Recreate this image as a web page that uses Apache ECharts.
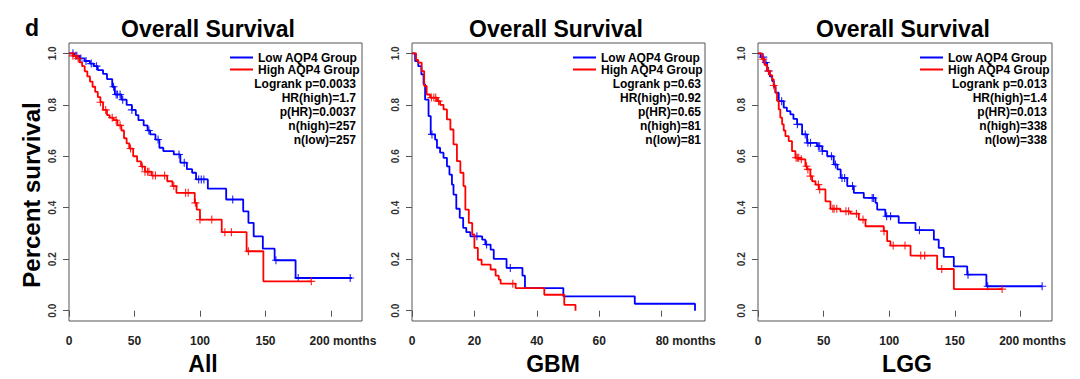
<!DOCTYPE html>
<html><head><meta charset="utf-8">
<script src="https://cdn.jsdelivr.net/npm/echarts@6/dist/echarts.min.js"></script>
<style>html,body{margin:0;padding:0;background:#fff}#c{width:1080px;height:379px}</style>
</head><body><div id="c"></div>
<script>
// ---------- data ----------
const panelLabels = ['All', 'GBM', 'LGG'];
const seriesNames = ['Low AQP4 Group', 'High AQP4 Group'];
const yTicks = [0, 0.2, 0.4, 0.6, 0.8, 1.0];
const xTicksAll = [0, 50, 100, 150, 200];
const xTicksGBM = [0, 20, 40, 60, 80];
const xTicksLGG = [0, 50, 100, 150, 200];
const statsAll = ['Logrank p=0.0033', 'HR(high)=1.7', 'p(HR)=0.0037', 'n(high)=257', 'n(low)=257'];
const statsGBM = ['Logrank p=0.63', 'HR(high)=0.92', 'p(HR)=0.65', 'n(high)=81', 'n(low)=81'];
const statsLGG = ['Logrank p=0.013', 'HR(high)=1.4', 'p(HR)=0.013', 'n(high)=338', 'n(low)=338'];

// Kaplan-Meier steps (months, survival)
const allLowT = [0,4,8,12,16,19,22,26,29,33,35,40,44,48,51,53,57,60,62,66,69,72,80,85,90,94,97,106,120,133,137,141,148,157,173,216];
const allLowS = [1,0.99,0.98,0.97,0.96,0.95,0.935,0.92,0.9,0.87,0.84,0.82,0.8,0.78,0.76,0.74,0.72,0.7,0.685,0.665,0.633,0.62,0.607,0.575,0.55,0.536,0.51,0.474,0.432,0.386,0.341,0.289,0.241,0.196,0.127,0.127];
const allHighT = [0,3,6,8,10,12,14,16,18,20,22,24,26,29,31,34,37,40,42,44,46,49,52,55,58,63,75,79,82,96,97.5,100,116.6,135.6,148.4,185];
const allHighS = [1,0.99,0.98,0.965,0.95,0.93,0.91,0.89,0.87,0.85,0.83,0.81,0.78,0.76,0.75,0.74,0.72,0.70,0.67,0.65,0.63,0.60,0.58,0.56,0.54,0.525,0.503,0.484,0.458,0.419,0.393,0.354,0.305,0.231,0.114,0.114];
const gbmLowT = [0,1,2,3,3.7,4.2,5.3,6,7.4,8,9,10.1,11.2,12,12.8,13.3,14.2,15.3,16.4,17.4,18.7,22.5,23.5,25.2,26.2,30.3,35.4,36.2,48.5,71.4,90.7];
const gbmLowS = [1,0.97,0.95,0.918,0.88,0.82,0.756,0.685,0.665,0.633,0.614,0.594,0.561,0.529,0.49,0.451,0.396,0.361,0.322,0.305,0.289,0.276,0.257,0.237,0.201,0.166,0.136,0.088,0.056,0.027,0];
const gbmHighT = [0,1.3,2,3.1,3.9,4.7,5.8,8,9,10.1,11.2,12.3,13.3,14.4,15.5,16.5,17.1,18.2,19.3,20,21.1,22.3,25.2,26.8,27.8,28.4,33.2,42.4,48.8,52.4];
const gbmHighS = [1,0.974,0.964,0.931,0.873,0.84,0.828,0.814,0.8,0.782,0.743,0.704,0.646,0.581,0.536,0.484,0.393,0.341,0.296,0.244,0.198,0.179,0.16,0.136,0.121,0.105,0.088,0.062,0.023,0];
const lggLowT = [0,2,4.3,7,9,10.8,12,13.3,15.8,19.6,22,24.7,27,29.8,33.6,37.4,45,49,52.7,57.7,60.5,63,68,73,80.6,89.5,90.8,97,107.2,120,134,137.7,141.5,149.2,159.4,174,216.5];
const lggLowS = [1,0.985,0.964,0.931,0.91,0.892,0.87,0.847,0.814,0.789,0.775,0.763,0.745,0.724,0.685,0.652,0.639,0.62,0.6,0.568,0.549,0.516,0.484,0.458,0.438,0.419,0.393,0.367,0.341,0.313,0.276,0.244,0.209,0.172,0.14,0.095,0.095];
const lggHighT = [0,3.1,5,7,9,10.8,12,13.3,14.5,15.8,17,18.4,19.6,20.9,23.4,25.9,28.5,32.3,36.1,37.4,39.9,41.2,43.8,46.3,51.4,55.2,62.8,70.4,76.8,81.9,95.8,98.4,100.9,116.2,136.5,149.2,186];
const lggHighS = [1,0.977,0.955,0.931,0.915,0.899,0.875,0.847,0.815,0.782,0.75,0.724,0.70,0.678,0.659,0.62,0.594,0.588,0.561,0.549,0.523,0.503,0.49,0.471,0.425,0.396,0.386,0.377,0.354,0.328,0.309,0.27,0.253,0.214,0.162,0.084,0.084];

// censoring times (months)
const allLowCens = [3,6,9,13,17,21,34,36,37,39,41,48,61,68,84,88,99,101,103,125,158,175,214.7];
const allHighCens = [3,5,7,24,28,33,36,39,47,56,58,60,61,64,66,73,80,89,91,96.5,100,109,119,124,137,185];
const gbmLowCens = [6.4,20.8,23.9,31.5];
const gbmHighCens = [6.2,7,7.6,8.5,32.3];
const lggLowCens = [4,6,8,18,30,36,38,40,46,47,49,56,59,64,66,72,87,88,98,101,123,160,175,216.5];
const lggHighCens = [4,8,12,29,30,31,33,37,38,40,46,47,57,58,60,67,69,75,80,96,103,112,124,127,140,186];

// ---------- layout / style ----------
const FAM = 'Liberation Sans, Arial, Helvetica, sans-serif';
const BLUE = '#0000ff', RED = '#ff0000', AXC = '#555';
const panels = [
  {grid:{left:69, right:718}, xMax:223.7, xTicks:xTicksAll, pad:24, lowT:allLowT, lowS:allLowS, highT:allHighT, highS:allHighS, lowC:allLowCens, highC:allHighCens, stats:statsAll, legendLeft:230, statsRight:356, titleX:208, labelX:203},
  {grid:{left:412, right:375}, xMax:93.9, xTicks:xTicksGBM, pad:48, lowT:gbmLowT, lowS:gbmLowS, highT:gbmHighT, highS:gbmHighS, lowC:gbmLowCens, highC:gbmHighCens, stats:statsGBM, legendLeft:573, statsRight:701, titleX:556, labelX:553},
  {grid:{left:758, right:28}, xMax:224, xTicks:xTicksLGG, pad:24, lowT:lggLowT, lowS:lggLowS, highT:lggHighT, highS:lggHighS, lowC:lggLowCens, highC:lggHighCens, stats:statsLGG, legendLeft:920, statsRight:1047, titleX:903, labelX:907}
];
const PLUS = 'path://M-0.14,-1L0.14,-1L0.14,-0.14L1,-0.14L1,0.14L0.14,0.14L0.14,1L-0.14,1L-0.14,0.14L-1,0.14L-1,-0.14L-0.14,-0.14Z';

function survAt(T, S, t) {
  let v = S[0];
  for (let i = 0; i < T.length; i++) { if (T[i] <= t) v = S[i]; else break; }
  return v;
}
const pairs = (T, S) => T.map((t, i) => [t, S[i]]);
const txt = (x, y, text, size, align, extra) => Object.assign({type:'text', x, y, silent:true,
  style:{text, align, verticalAlign:'middle', font:'bold ' + size + 'px ' + FAM, fill:'#000'}}, extra || {});

const grid = [], xAxis = [], yAxis = [], series = [], legend = [], graphic = [];
panels.forEach((p, i) => {
  grid.push({left:p.grid.left, right:p.grid.right, top:43, bottom:58, show:true, borderColor:AXC, borderWidth:1, backgroundColor:'transparent'});
  const last = p.xTicks[p.xTicks.length - 1];
  xAxis.push({gridIndex:i, type:'value', min:0, max:p.xMax, splitLine:{show:false}, axisLine:{show:false},
    axisTick:{show:true, customValues:p.xTicks, length:6, lineStyle:{color:AXC, width:1}},
    axisLabel:{customValues:p.xTicks, margin:14, fontSize:12, fontWeight:'bold', color:'#222', fontFamily:FAM,
      formatter:(v) => v === last ? '{m|' + v + ' months}' : String(v),
      rich:{m:{padding:[0,0,0,p.pad], fontSize:12, fontWeight:'bold', color:'#222', fontFamily:FAM}}}});
  yAxis.push({gridIndex:i, type:'value', min:-0.04, max:1.04, splitLine:{show:false}, axisLine:{show:false},
    axisTick:{show:true, customValues:yTicks, length:6, lineStyle:{color:AXC, width:1}},
    axisLabel:{customValues:yTicks, rotate:90, margin:12, fontSize:10, fontWeight:'bold', color:'#333', fontFamily:FAM,
      formatter:(v) => v.toFixed(1)}});
  series.push({name:seriesNames[0], type:'line', step:'end', symbol:'none', xAxisIndex:i, yAxisIndex:i,
    data:pairs(p.lowT, p.lowS), lineStyle:{color:BLUE, width:1.8}, itemStyle:{color:BLUE}, silent:true, z:2});
  series.push({name:seriesNames[1], type:'line', step:'end', symbol:'none', xAxisIndex:i, yAxisIndex:i,
    data:pairs(p.highT, p.highS), lineStyle:{color:RED, width:1.8}, itemStyle:{color:RED}, silent:true, z:3});
  series.push({name:'low censored ' + i, type:'scatter', xAxisIndex:i, yAxisIndex:i, symbol:PLUS, symbolSize:8,
    data:p.lowC.map(t => [t, survAt(p.lowT, p.lowS, t)]), itemStyle:{color:BLUE, opacity:0.85}, silent:true, z:2});
  series.push({name:'high censored ' + i, type:'scatter', xAxisIndex:i, yAxisIndex:i, symbol:PLUS, symbolSize:8,
    data:p.highC.map(t => [t, survAt(p.highT, p.highS, t)]), itemStyle:{color:RED, opacity:0.85}, silent:true, z:3});
  legend.push({data:seriesNames, orient:'vertical', left:p.legendLeft, top:51.5, padding:0, itemGap:0,
    itemWidth:23, itemHeight:2, icon:'rect', selectedMode:false,
    textStyle:{fontSize:12, fontWeight:'bold', color:'#000', fontFamily:FAM, lineHeight:11}});
  p.stats.forEach((s, k) => graphic.push(txt(p.statsRight, 83.5 + k * 14.2, s, 12, 'right')));
  graphic.push(txt(p.titleX, 29, 'Overall Survival', 23, 'center'));
  graphic.push(txt(p.labelX, 364, panelLabels[i], 23, 'center'));
});
graphic.push(txt(25, 28, 'd', 23, 'left'));
graphic.push(txt(31.5, 195, 'Percent survival', 24, 'center', {rotation:Math.PI / 2}));

const chart = echarts.init(document.getElementById('c'), null, {renderer:'svg'});
chart.setOption({animation:false, backgroundColor:'#fff', grid, xAxis, yAxis, series, legend, graphic});
</script></body></html>
